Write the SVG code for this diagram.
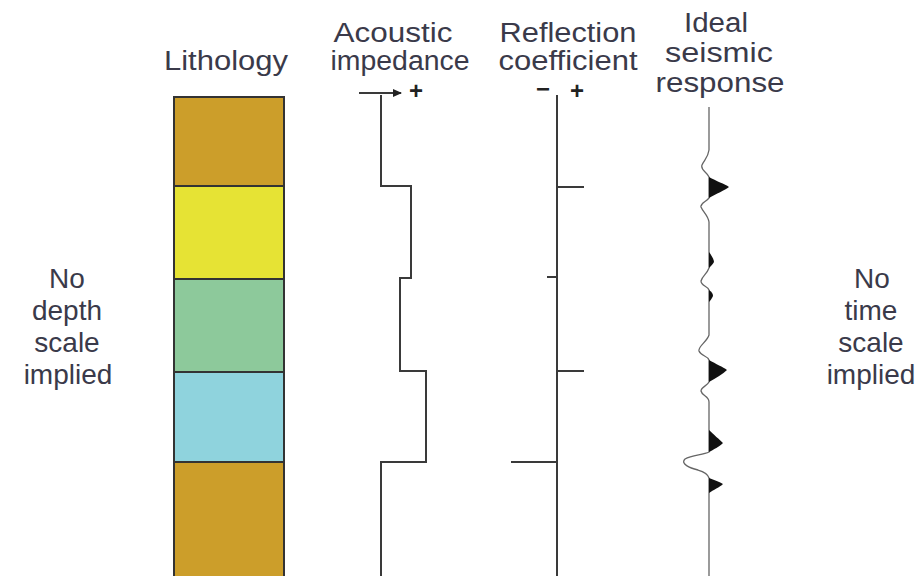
<svg xmlns="http://www.w3.org/2000/svg" width="924" height="576" viewBox="0 0 924 576">
<defs>
<style>
.t{font-family:"Liberation Sans",Arial,sans-serif;font-size:27px;fill:#3a3a4a;text-anchor:middle}
.u{font-family:"Liberation Sans",Arial,sans-serif;font-size:28px;fill:#3a3a4a;text-anchor:middle}
.s{font-family:"Liberation Sans",Arial,sans-serif;font-size:24px;font-weight:bold;fill:#222;text-anchor:middle}
.ln{fill:none;stroke:#3a3a3a;stroke-width:2}
.lay{stroke:#333;stroke-width:2}
.wig{fill:none;stroke:#666;stroke-width:1.3}
.pk{fill:#111;stroke:none}
</style>
<marker id="ah" markerWidth="10" markerHeight="10" refX="8" refY="5" orient="auto" markerUnits="userSpaceOnUse">
<path d="M0,1 L9,5 L0,9 Z" fill="#222"/>
</marker>
</defs>
<rect width="924" height="576" fill="#fff"/>

<g id="labels">
<text class="t" x="226" y="70" textLength="124" lengthAdjust="spacingAndGlyphs">Lithology</text>
<text class="t" x="393" y="42" textLength="119" lengthAdjust="spacingAndGlyphs">Acoustic</text>
<text class="t" x="400" y="70" textLength="139" lengthAdjust="spacingAndGlyphs">impedance</text>
<text class="t" x="568" y="42" textLength="137" lengthAdjust="spacingAndGlyphs">Reflection</text>
<text class="t" x="568" y="70" textLength="139" lengthAdjust="spacingAndGlyphs">coefficient</text>
<text class="t" x="716" y="32" textLength="64" lengthAdjust="spacingAndGlyphs">Ideal</text>
<text class="t" x="719" y="62" textLength="108" lengthAdjust="spacingAndGlyphs">seismic</text>
<text class="t" x="720" y="92" textLength="129" lengthAdjust="spacingAndGlyphs">response</text>
<text class="u" x="67" y="288">No</text>
<text class="u" x="67" y="320">depth</text>
<text class="u" x="67" y="352">scale</text>
<text class="u" x="68" y="384">implied</text>
<text class="u" x="872" y="288">No</text>
<text class="u" x="871" y="320">time</text>
<text class="u" x="871" y="352">scale</text>
<text class="u" x="871" y="384">implied</text>
</g>

<g id="lithology">
<rect class="lay" x="174" y="97" width="110" height="89" fill="#CC9E2A"/>
<rect class="lay" x="174" y="186" width="110" height="93" fill="#E6E334"/>
<rect class="lay" x="174" y="279" width="110" height="93" fill="#8DC99B"/>
<rect class="lay" x="174" y="372" width="110" height="90" fill="#8FD3DD"/>
<rect class="lay" x="174" y="462" width="110" height="130" fill="#CC9E2A"/>
</g>

<g id="acoustic-impedance">
<line class="ln" x1="359" y1="93" x2="401" y2="93" marker-end="url(#ah)"/>
<text class="s" x="416" y="99">+</text>
<path class="ln" d="M381,95 V186 H411 V278 H400 V371 H426 V462 H381 V576"/>
</g>

<g id="reflection-coefficient">
<text class="s" x="543" y="97">−</text>
<text class="s" x="577" y="99">+</text>
<path class="ln" d="M557,95 V576"/>
<path class="ln" d="M557,187 H584 M547,277 H557 M557,371 H584 M511,462 H557"/>
</g>

<g id="seismic-response">
<path class="wig" d="M709,107 V150 C708,158 704,160 702,165 C700,170 707,172 709,177
 L709,198 C706,202 700,203 701,207 C703,212 708,215 709,222 V252
 L709,268 C707,274 702,276 701,281 C701,286 708,286 709,290
 V335 C707,342 698,346 699,351 C701,356 708,356 709,360
 V382 C707,386 701,387 701,391 C702,396 709,396 709,402 V430
 V452 C703,455 692,455 685,459 C680,464 690,468 698,470 C705,472 708,474 709,478
 V576"/>
<path class="pk" d="M709,177 C716,181 725,184 729,187 C725,190 716,194 709,198 Z"/>
<path class="pk" d="M709,252 C712,256 714,260 714,262 C713,264 711,266 709,268 Z"/>
<path class="pk" d="M709,290 C712,292 713,294 713,296 C712,298 711,300 709,302 Z"/>
<path class="pk" d="M709,360 C716,364 723,367 727,370 C723,374 716,378 709,382 Z"/>
<path class="pk" d="M709,430 C713,434 720,440 723,443 C720,446 713,450 709,452 Z"/>
<path class="pk" d="M709,478 C714,480 720,482 723,484 C720,487 713,490 709,493 Z"/>
</g>
</svg>
